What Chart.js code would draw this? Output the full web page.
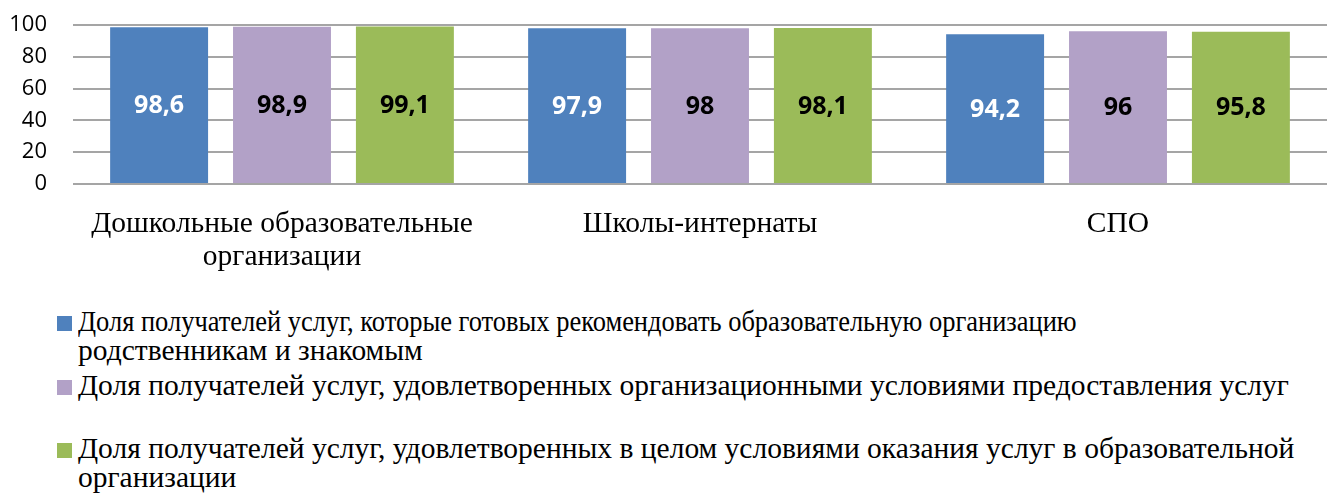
<!DOCTYPE html>
<html>
<head>
<meta charset="utf-8">
<script src="https://cdn.jsdelivr.net/npm/chart.js@4/dist/chart.umd.min.js"></script>
<style>
  html, body { margin: 0; padding: 0; background: #fff; }
  #wrap { position: relative; width: 1327px; height: 498px; overflow: hidden; }
  #chart-box { position: absolute; left: 0; top: 0; width: 1327px; height: 290px; }
  #legend { position: absolute; left: 57px; top: 307px; font-family: 'Liberation Serif', 'Times New Roman', 'DejaVu Serif', serif; font-size: 29.5px; color: #000; }
  .item { position: relative; height: 63.5px; }
  .swatch { position: absolute; left: 0; top: 9px; width: 15px; height: 15px; }
  .text { position: absolute; left: 21px; top: 0; line-height: 29px; white-space: nowrap; }
  .line { display: block; transform-origin: 0 50%; }
</style>
</head>
<body>
<div id="wrap">
  <div id="chart-box"><canvas id="chart"></canvas></div>
  <div id="legend"></div>
</div>
<script>
// categories (multi-line labels as arrays)
const categories = [
  ['Дошкольные образовательные', 'организации'],
  'Школы-интернаты',
  'СПО'
];

const seriesNames = [
  ['Доля получателей услуг, которые готовых рекомендовать образовательную организацию', 'родственникам и знакомым'],
  ['Доля получателей услуг, удовлетворенных организационными условиями предоставления услуг'],
  ['Доля получателей услуг, удовлетворенных в целом условиями оказания услуг в образовательной', 'организации']
];

const recommendValues = [98.6, 97.9, 94.2];
const conditionsValues = [98.9, 98, 96];
const overallValues = [99.1, 98.1, 95.8];

const seriesColors = ['#4f81bd', '#b2a1c7', '#9bbb59'];
const labelColors = ['#ffffff', '#000000', '#000000'];

const yTicks = [0, 20, 40, 60, 80, 100];

// draws the value in the middle of every bar
const barValues = {
  id: 'barValues',
  afterDatasetsDraw(chart) {
    const ctx = chart.ctx;
    ctx.save();
    ctx.font = 'bold 25px "Open Sans", sans-serif';
    ctx.textAlign = 'center';
    ctx.textBaseline = 'middle';
    chart.data.datasets.forEach((ds, i) => {
      const meta = chart.getDatasetMeta(i);
      ctx.fillStyle = labelColors[i];
      meta.data.forEach((bar, j) => {
        const txt = String(ds.data[j]).replace('.', ',');
        ctx.fillText(txt, bar.x, (bar.y + bar.base) / 2 + 1);
      });
    });
    ctx.restore();
  }
};

const values = [recommendValues, conditionsValues, overallValues];

const chart = new Chart(document.getElementById('chart'), {
  type: 'bar',
  data: {
    labels: categories,
    datasets: values.map((v, i) => ({
      label: seriesNames[i].join(' '),
      data: v,
      backgroundColor: seriesColors[i],
      borderWidth: 0,
      barPercentage: 0.797,
      categoryPercentage: 0.882
    }))
  },
  options: {
    responsive: true,
    maintainAspectRatio: false,
    animation: false,
    layout: { padding: { top: 25, right: 0, bottom: 0, left: 0 } },
    plugins: {
      legend: { display: false },
      tooltip: { enabled: false }
    },
    scales: {
      x: {
        grid: { display: false, drawTicks: false },
        border: { display: false },
        ticks: {
          color: '#000',
          padding: 24,
          maxRotation: 0,
          autoSkip: false,
          font: { family: "'Liberation Serif', 'Times New Roman', serif", size: 29.5, lineHeight: 1.12 }
        },
        afterFit(scale) { scale.height = 106; }
      },
      y: {
        min: 0,
        max: 100,
        afterBuildTicks(scale) { scale.ticks = yTicks.map(v => ({ value: v })); },
        grid: { color: '#a5a5a5', lineWidth: 2, drawTicks: false },
        border: { display: false },
        ticks: {
          color: '#000',
          padding: 26,
          autoSkip: false,
          font: { family: "'Open Sans', sans-serif", size: 22 }
        },
        afterFit(scale) {
          scale.width = 73;
          // tick padding would otherwise push the plot down
          scale.paddingTop = 13;
          scale.paddingBottom = 13;
        }
      }
    }
  },
  plugins: [barValues]
});

// legend built from the datasets
const legend = document.getElementById('legend');
chart.data.datasets.forEach((ds, i) => {
  const item = document.createElement('div');
  item.className = 'item';
  const sw = document.createElement('div');
  sw.className = 'swatch';
  sw.style.background = ds.backgroundColor;
  const tx = document.createElement('div');
  tx.className = 'text';
  seriesNames[i].forEach((line, k) => {
    const span = document.createElement('span');
    span.className = 'line';
    span.textContent = line;
    // first line of the first entry is set condensed in the source
    if (i === 0 && k === 0) span.style.transform = 'scaleX(0.897)';
    tx.appendChild(span);
  });
  item.appendChild(sw);
  item.appendChild(tx);
  legend.appendChild(item);
});
</script>
</body>
</html>
